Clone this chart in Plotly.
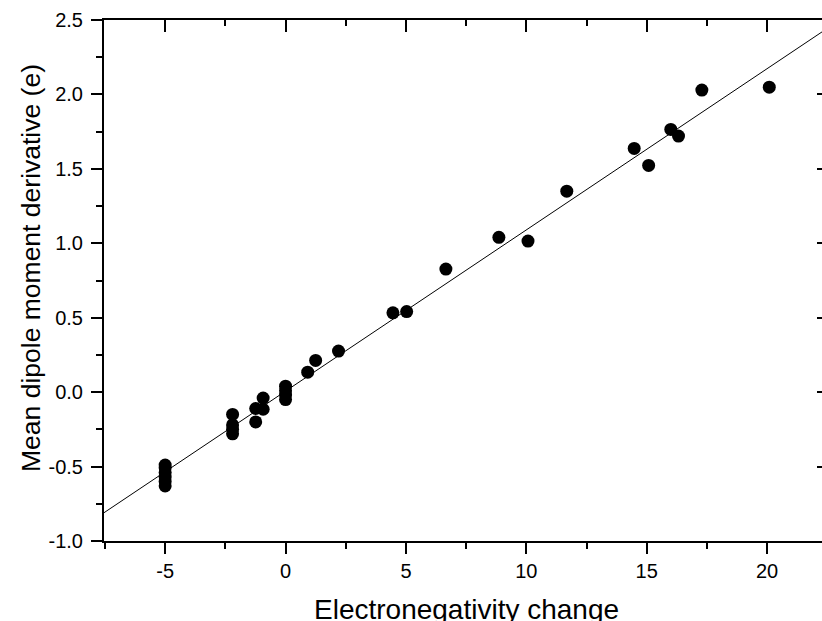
import plotly.graph_objects as go

# Data
en_change = [-5, -5, -5, -5, -5, -5,
             -2.2, -2.2, -2.2, -2.2,
             -1.24, -1.24, -0.93, -0.93,
             0, 0, 0, 0,
             0.92, 1.25, 2.2, 4.46, 5.03,
             6.66, 8.86, 10.07, 11.68,
             14.48, 15.08, 16.0, 16.32, 17.29, 20.09]
dipole_deriv = [-0.49, -0.51, -0.54, -0.57, -0.60, -0.63,
                -0.15, -0.22, -0.25, -0.28,
                -0.11, -0.20, -0.04, -0.115,
                0.04, 0.01, -0.02, -0.05,
                0.134, 0.213, 0.276, 0.533, 0.541,
                0.827, 1.04, 1.015, 1.35,
                1.637, 1.523, 1.765, 1.72, 2.029, 2.049]
fit_x = [-7.54, 22.28]
fit_y = [-0.81, 2.42]

x_range = [-7.54, 22.28]
y_range = [-1.0, 2.5]
x_ticks = [-5, 0, 5, 10, 15, 20]
x_tick_text = ["-5", "0", "5", "10", "15", "20"]
y_ticks = [-1.0, -0.5, 0.0, 0.5, 1.0, 1.5, 2.0, 2.5]
y_tick_text = ["-1.0", "-0.5", "0.0", "0.5", "1.0", "1.5", "2.0", "2.5"]
x_title = "Electronegativity change"
y_title = "Mean dipole moment derivative (e)"

FONT = "Liberation Sans, Arial, Helvetica, sans-serif"

W, H = 822, 621
ML, MR, MT, MB = 104, 0, 20, 80
PW, PH = W - ML - MR, H - MT - MB

fig = go.Figure()
fig.add_trace(go.Scatter(x=fit_x, y=fit_y, mode="lines",
                         line=dict(color="black", width=1), showlegend=False,
                         hoverinfo="skip"))
fig.add_trace(go.Scatter(x=en_change, y=dipole_deriv, mode="markers",
                         marker=dict(color="black", size=13, line=dict(width=0)),
                         showlegend=False))
# invisible trace to activate mirrored axes
fig.add_trace(go.Scatter(x=[x_range[0]], y=[y_range[0]], xaxis="x2", yaxis="y2",
                         mode="markers", marker=dict(opacity=0), showlegend=False,
                         hoverinfo="skip"))

fig.update_layout(
    width=W, height=H,
    margin=dict(l=ML, r=MR, t=MT, b=MB),
    paper_bgcolor="white", plot_bgcolor="white",
    font=dict(family=FONT, color="black"),
    xaxis=dict(range=x_range, tickmode="array", tickvals=x_ticks, ticktext=x_tick_text,
               ticks="outside", ticklen=11, tickwidth=2, tickcolor="black",
               minor=dict(dtick=2.5, ticks="outside", ticklen=6, tickwidth=2,
                          tickcolor="black", showgrid=False),
               showline=True, linecolor="black", linewidth=2,
               showgrid=False, zeroline=False, automargin=False,
               tickfont=dict(size=20, family=FONT, color="black"),
               ticklabelstandoff=0),
    yaxis=dict(range=y_range, tickmode="array", tickvals=y_ticks, ticktext=y_tick_text,
               ticks="outside", ticklen=11, tickwidth=2, tickcolor="black",
               minor=dict(dtick=0.25, ticks="outside", ticklen=6, tickwidth=2,
                          tickcolor="black", showgrid=False),
               showline=True, linecolor="black", linewidth=2,
               showgrid=False, zeroline=False, automargin=False,
               tickfont=dict(size=20, family=FONT, color="black"),
               ticklabelstandoff=4),
    xaxis2=dict(range=x_range, overlaying="x", side="top", anchor="y2",
                tickmode="array", tickvals=x_ticks, showticklabels=False,
                ticks="inside", ticklen=12, tickwidth=2, tickcolor="black",
                minor=dict(dtick=2.5, ticks="inside", ticklen=6, tickwidth=2,
                           tickcolor="black", showgrid=False),
                showline=True, linecolor="black", linewidth=2, automargin=False,
                showgrid=False, zeroline=False),
    yaxis2=dict(range=y_range, overlaying="y", side="right", anchor="x2",
                tickmode="array", tickvals=y_ticks, showticklabels=False,
                ticks="inside", ticklen=5, tickwidth=2, tickcolor="black", automargin=False,
                showline=False, showgrid=False, zeroline=False),
    annotations=[
        dict(text=x_title, xref="paper", yref="paper",
             x=(466 - ML) / PW, y=(H - MB - 592) / PH,
             xanchor="center", yanchor="top", showarrow=False,
             font=dict(size=28, family=FONT, color="black")),
        dict(text=y_title, xref="paper", yref="paper", textangle=-90,
             x=(31 - ML) / PW, y=(H - MB - 268) / PH,
             xanchor="center", yanchor="middle", showarrow=False,
             font=dict(size=26.5, family=FONT, color="black")),
    ],
)

fig.write_html("out.html", config={"displayModeBar": False},
               post_script="document.body.style.margin='0';document.body.style.overflow='hidden';")
